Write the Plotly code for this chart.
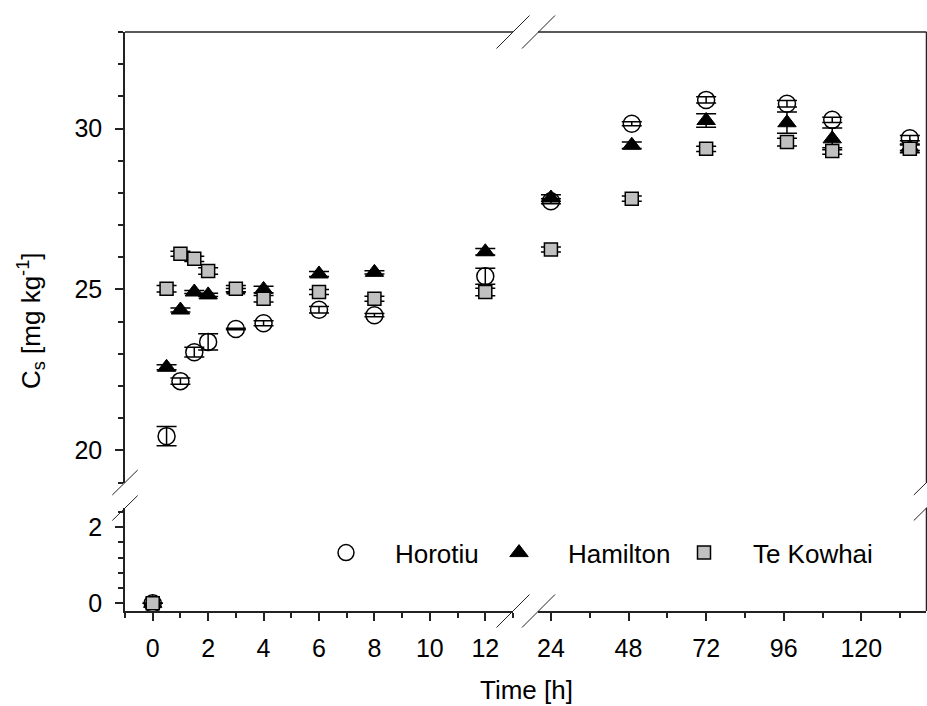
import plotly.graph_objects as go

# ---------------- data ----------------
times = [0, 0.5, 1, 1.5, 2, 3, 4, 6, 8, 12, 24, 49, 72, 97, 111, 135]

horotiu = [0, 20.44, 22.15, 23.05, 23.37, 23.77, 23.95, 24.37, 24.2, 25.41,
           27.74, 30.15, 30.89, 30.77, 30.27, 29.7]
horotiu_err = [0, 0.3, 0.1, 0.15, 0.25, 0.02, 0.08, 0.1, 0.05, 0.25,
               0.08, 0.06, 0.1, 0.1, 0.08, 0.08]

hamilton = [0, 22.58, 24.36, 24.92, 24.83, 24.98, 25.0, 25.48, 25.53, 26.17,
            27.84, 29.48, 30.25, 30.18, 29.68, 29.42]
hamilton_err = [0, 0.08, 0.06, 0.05, 0.05, 0.05, 0.1, 0.08, 0.05, 0.1,
                0.1, 0.1, 0.21, 0.33, 0.34, 0.1]

tekowhai = [0, 25.02, 26.11, 25.95, 25.57, 25.02, 24.71, 24.92, 24.71, 24.92,
            26.24, 27.82, 29.37, 29.58, 29.3, 29.37]
tekowhai_err = [0, 0.1, 0.08, 0.08, 0.1, 0.1, 0.1, 0.08, 0.08, 0.12,
                0.08, 0.08, 0.08, 0.12, 0.1, 0.12]

series_names = ["Horotiu", "Hamilton", "Te Kowhai"]

x_left_ticks = [0, 2, 4, 6, 8, 10, 12]
x_right_ticks = [24, 48, 72, 96, 120]
y_top_ticks = [20, 25, 30]
y_bottom_ticks = [0, 2]

# ---------------- layout geometry ----------------
W, H = 927, 706
ML, MR, MT, MB = 125, 1, 32, 95
PW = W - ML - MR
PH = H - MT - MB


def px(xp):
    return (xp - ML) / PW


def py(yp):
    return (H - MB - yp) / PH


XL_END = px(513)
XR_START = px(538)
YB_END = py(508)
YT_START = py(482.5)

X_BREAK = 18
Y_BREAK = 10

FONT = "Arial, Liberation Sans, Helvetica, sans-serif"
AX = "#222222"

markers = [
    dict(symbol="circle-open", size=17, color="black", line=dict(width=1.5, color="black")),
    dict(symbol="triangle-up", size=16, color="black", line=dict(width=1, color="black")),
    dict(symbol="square", size=13, color="#c0c0c0", line=dict(width=1.5, color="black")),
]
values = [horotiu, hamilton, tekowhai]
errors = [horotiu_err, hamilton_err, tekowhai_err]
legends = ["legend", "legend2", "legend3"]
nb = "\u00a0" * 4

fig = go.Figure()
for i, name in enumerate(series_names):
    vals, errs = values[i], errors[i]
    first = True
    for xa, side in (("x", 0), ("x2", 1)):
        for ya, lower in (("y", 0), ("y2", 1)):
            idx = [k for k in range(len(times))
                   if ((times[k] > X_BREAK) == bool(side))
                   and ((vals[k] < Y_BREAK) == bool(lower))]
            if not idx:
                continue
            fig.add_trace(go.Scatter(
                x=[times[k] for k in idx],
                y=[vals[k] for k in idx],
                error_y=dict(type="data", array=[errs[k] for k in idx],
                             color="black", thickness=1.5, width=10),
                mode="markers",
                marker=markers[i],
                name=nb + name,
                legendgroup=name,
                showlegend=first,
                legend=legends[i],
                xaxis=xa, yaxis=ya,
            ))
            first = False

axis_common = dict(
    showline=True, linewidth=1.5, linecolor=AX,
    ticks="outside", ticklen=8, tickwidth=1.5, tickcolor=AX,
    showgrid=False, zeroline=False,
    tickfont=dict(family=FONT, size=25, color="black"),
)

fig.update_layout(
    width=W, height=H,
    margin=dict(l=ML, r=MR, t=MT, b=MB),
    paper_bgcolor="white", plot_bgcolor="white",
    font=dict(family=FONT, color="black"),
    xaxis=dict(domain=[0, XL_END], range=[-1, 13], anchor="y2",
               tickmode="array", tickvals=x_left_ticks, ticklabelstandoff=6,
               minor=dict(tickmode="linear", tick0=0, dtick=1, ticks="outside",
                          ticklen=5, tickwidth=1.5, tickcolor=AX),
               **axis_common),
    xaxis2=dict(domain=[XR_START, 1], range=[20, 140], anchor="y2",
                tickmode="array", tickvals=x_right_ticks, ticklabelstandoff=6,
                minor=dict(tickmode="linear", tick0=0, dtick=12, ticks="outside",
                           ticklen=5, tickwidth=1.5, tickcolor=AX),
                **axis_common),
    yaxis=dict(domain=[YT_START, 1], range=[19, 33], anchor="x",
               tickmode="array", tickvals=y_top_ticks, ticklabelstandoff=8,
               minor=dict(tickmode="linear", tick0=0, dtick=1, ticks="outside",
                          ticklen=5, tickwidth=1.5, tickcolor=AX),
               **axis_common),
    yaxis2=dict(domain=[0, YB_END], range=[-0.2, 2.5], anchor="x",
                tickmode="array", tickvals=y_bottom_ticks, ticklabelstandoff=8,
                minor=dict(tickmode="linear", tick0=0, dtick=0.4, ticks="outside",
                           ticklen=5, tickwidth=1.5, tickcolor=AX),
                **axis_common),
)

leg_common = dict(orientation="h", yanchor="middle", y=py(552.7), xanchor="left",
                  bgcolor="rgba(0,0,0,0)", borderwidth=0,
                  font=dict(family=FONT, size=26, color="black"))
fig.update_layout(
    legend=dict(x=px(346 - 20), **leg_common),
    legend2=dict(x=px(518 - 19), **leg_common),
    legend3=dict(x=px(704 - 20), **leg_common),
)

# frame lines (top and right borders with breaks)
shapes = []
def seg(x0, y0, x1, y1, w=1.5):
    shapes.append(dict(type="line", xref="paper", yref="paper",
                       x0=px(x0), y0=py(y0), x1=px(x1), y1=py(y1),
                       line=dict(color=AX, width=w)))

seg(125, 32, 513, 32)
seg(538, 32, 926.5, 32)
seg(926.5, 32, 926.5, 482.5)
seg(926.5, 508, 926.5, 611)

# break slashes
for cx in (513, 538.5):
    for cy in (32, 611):
        seg(cx - 16.5, cy + 16.5, cx + 16.5, cy - 16.5, 1)
for cx in (125, 926.5):
    for cy in (482.5, 508):
        seg(cx - 12.7, cy + 12.5, cx + 12.7, cy - 12.5, 1)

fig.update_layout(shapes=shapes)

fig.add_annotation(xref="paper", yref="paper", x=px(526.7), y=py(690),
                   xanchor="center", yanchor="middle", showarrow=False,
                   text="Time [h]", font=dict(family=FONT, size=26, color="black"))
fig.add_annotation(xref="paper", yref="paper", x=px(31), y=py(321),
                   xanchor="center", yanchor="middle", showarrow=False, textangle=-90,
                   text="C<sub>s</sub> [mg kg<sup>-1</sup>]",
                   font=dict(family=FONT, size=26, color="black"))

fig.write_html("out.html", config={"displayModeBar": False},
               post_script="document.body.style.margin='0';document.body.style.padding='0';")
